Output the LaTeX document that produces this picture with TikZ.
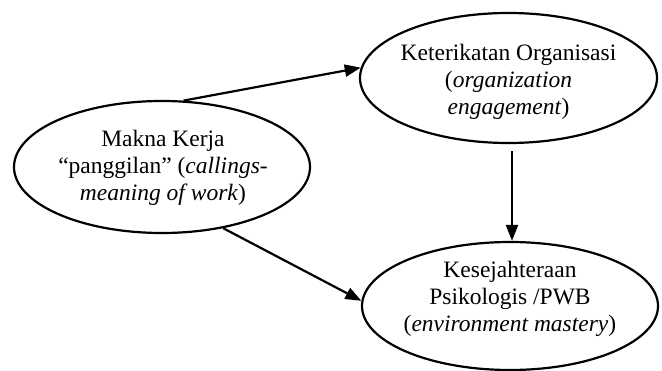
\documentclass[tikz,border=0pt]{standalone}
\usepackage{fontspec}
\setmainfont{Liberation Serif}
\usetikzlibrary{shapes.geometric,arrows.meta}
\begin{document}
\begin{tikzpicture}[x=1pt,y=-1pt,
  oval/.style={ellipse,draw,line width=2.2pt,inner sep=0pt},
  lbl/.style={align=center,inner sep=0pt,font=\fontsize{23.5}{27}\selectfont},
  conn/.style={line width=2.2pt,-{Triangle[length=16pt,width=12pt]}}]
\useasboundingbox (0,0) rectangle (662,371);
\node[oval,minimum width=296pt,minimum height=132pt] (L) at (162,167) {};
\node[oval,minimum width=297pt,minimum height=130pt] (T) at (508.5,78) {};
\node[oval,minimum width=296pt,minimum height=128pt] (B) at (510,306) {};
\node[lbl] (Lt) at (163,168) {Makna Kerja\\``panggilan'' (\textit{callings-}\\\textit{meaning of work})};
\node[lbl] (Tt) at (508.5,82) {Keterikatan Organisasi\\(\textit{organization}\\\textit{engagement})};
\node[lbl] (Bt) at (510,299) {Kesejahteraan\\Psikologis /PWB\\(\textit{environment mastery})};
\draw[conn] (L.72) -- (T.176);
\draw[conn] (L.-45) -- (B.178);
\draw[conn,shorten <=7pt] ([xshift=2pt]B.north |- T.south) -- ([xshift=2pt]B.north);
\end{tikzpicture}
\end{document}
